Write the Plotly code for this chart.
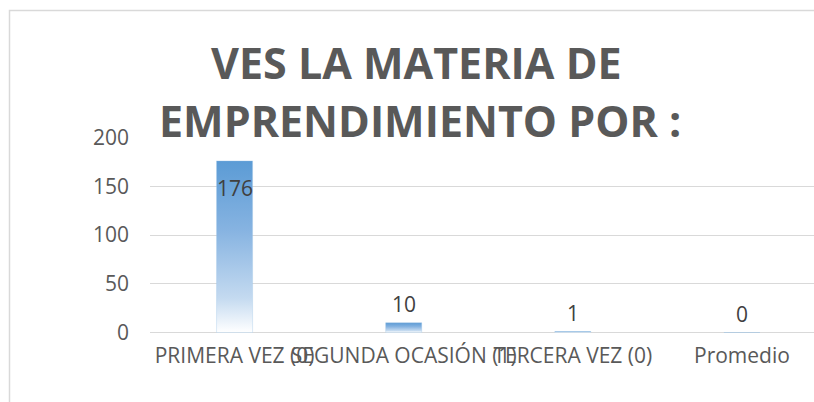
import plotly.graph_objects as go

categories = ["PRIMERA VEZ (0)", "SEGUNDA OCASIÓN (1)", "TERCERA VEZ (0)", "Promedio"]
values = [176, 10, 1, 0]
y_ticks = [0, 50, 100, 150, 200]
title_lines = ["VES LA MATERIA DE", "EMPRENDIMIENTO POR :"]

W, H = 814, 402
ML, MR, MT, MB = 150, 0, 137, 69
PW, PH = W - ML - MR, H - MT - MB

def px_x(px):
    return (px - ML) / PW

def px_y(py):
    return (H - MB - py) / PH

FONT = "Open Sans"
GRAY = "#595959"
half = 0.1065

fig = go.Figure()
for i, v in enumerate(values):
    fig.add_trace(go.Scatter(
        x=[i - half, i - half, i + half, i + half, i - half],
        y=[0, v, v, 0, 0],
        mode="lines",
        fill="toself",
        line=dict(width=0.6, color="rgba(157,195,230,0.6)"),
        fillgradient=dict(
            type="vertical",
            colorscale=[[0, "#ffffff"], [0.2, "#c4daf0"], [0.6, "#86b3e1"], [1, "#5b9bd5"]],
        ),
        hoverinfo="text",
        text=f"{categories[i]}: {v}",
        showlegend=False,
    ))

for i, v in enumerate(values):
    if v > 100:
        fig.add_annotation(x=i, y=v, xref="x", yref="y", text=str(v), showarrow=False,
                           yanchor="top", yshift=-11,
                           font=dict(family=FONT, size=21, color="#404040"))
    else:
        fig.add_annotation(x=i, y=v, xref="x", yref="y", text=str(v), showarrow=False,
                           yanchor="bottom", yshift=3,
                           font=dict(family=FONT, size=21, color="#404040"))

fig.add_annotation(x=px_x(416), y=px_y(62), xref="paper", yref="paper", text=title_lines[0],
                   showarrow=False, xanchor="center", yanchor="middle",
                   font=dict(family=FONT, size=43, color=GRAY, weight="bold"))
fig.add_annotation(x=px_x(420), y=px_y(121), xref="paper", yref="paper", text=title_lines[1],
                   showarrow=False, xanchor="center", yanchor="middle",
                   font=dict(family=FONT, size=43, color=GRAY, weight="bold"))

# chart border
fig.add_shape(type="rect", xref="paper", yref="paper",
              x0=px_x(9.5), x1=px_x(830), y0=px_y(420), y1=px_y(10.5),
              line=dict(color="#d9d9d9", width=1.5), fillcolor="rgba(0,0,0,0)", layer="below")

fig.update_layout(
    width=W, height=H,
    margin=dict(l=ML, r=MR, t=MT, b=MB, pad=0),
    paper_bgcolor="white", plot_bgcolor="white",
    font=dict(family=FONT, color=GRAY),
    showlegend=False,
    xaxis=dict(
        range=[-0.5, 3.426], tickvals=list(range(len(categories))), ticktext=categories,
        tickangle=0, showgrid=False, zeroline=False, showline=False, ticks="",
        tickfont=dict(family=FONT, size=21, color=GRAY), ticklabelstandoff=8,
        fixedrange=True,
    ),
    yaxis=dict(
        range=[-0.5, 200.5], tickvals=y_ticks, showgrid=True, gridcolor="#d9d9d9", gridwidth=1.3,
        zeroline=True, zerolinecolor="#d9d9d9", zerolinewidth=1.3, showline=False, ticks="",
        tickfont=dict(family=FONT, size=21, color=GRAY), ticklabelstandoff=20,
        fixedrange=True,
    ),
)

fig.write_html(
    "out.html",
    config={"displayModeBar": False},
    post_script="document.body.style.margin='0';document.body.style.overflow='hidden';",
)
